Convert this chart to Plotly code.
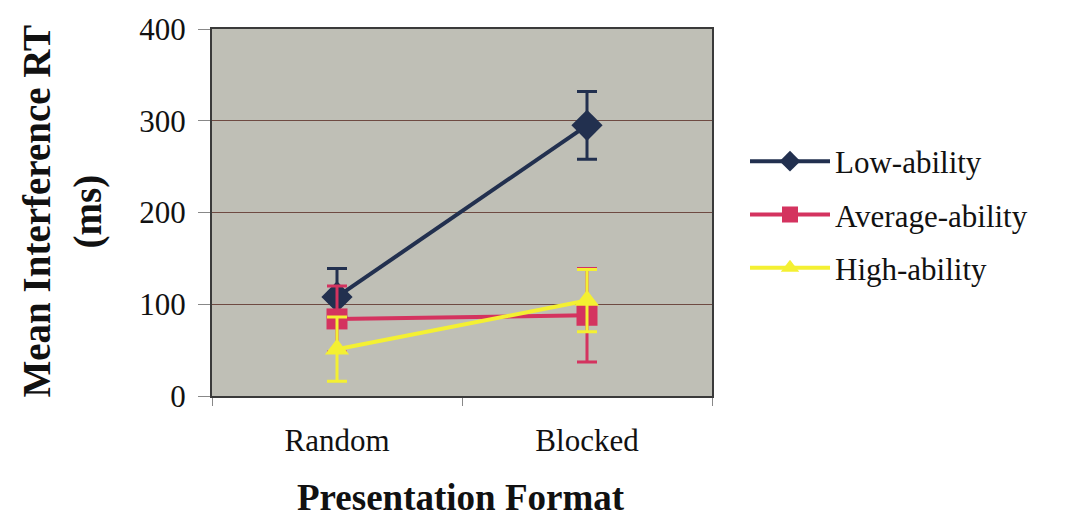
import plotly.graph_objects as go

formats = ["Random", "Blocked"]
groups = ["Low-ability", "Average-ability", "High-ability"]
low_mean = [108, 295]
low_err = [31, 37]
avg_mean = [84, 88]
avg_err = [36, 51]
high_mean = [51, 104]
high_err = [35, 34]

colors = ["#22304f", "#d4335f", "#f4f032"]
symbols = ["diamond", "square", "triangle-up"]
sizes = [24, 21, 21]

font_family = "Liberation Serif, Times New Roman, serif"

L, R, T, B = 212, 356, 26, 124
W, H = 1068, 520
pw, ph = W - L - R, H - T - B


def px_x(x):
    return (x - L) / pw


def px_y(y):
    return (H - B - y) / ph


fig = go.Figure()
for name, m, e, c, s, sz in zip(groups, [low_mean, avg_mean, high_mean],
                                [low_err, avg_err, high_err], colors, symbols, sizes):
    fig.add_trace(go.Scatter(
        x=formats, y=m, name=name, legendgroup=name, mode="lines+markers",
        line=dict(color=c, width=4),
        marker=dict(symbol=s, size=sz, color=c),
        error_y=dict(type="data", array=e, visible=True, color=c,
                     thickness=3, width=10),
    ))

fig.update_layout(
    width=W, height=H,
    margin=dict(l=L, r=R, t=T, b=B),
    paper_bgcolor="white",
    plot_bgcolor="#bfbfb6",
    font=dict(family=font_family, color="#111111"),
    showlegend=True,
    legend=dict(x=px_x(745), y=px_y(213), xanchor="left", yanchor="middle",
                font=dict(size=31, family=font_family),
                itemwidth=80, tracegroupgap=10, bgcolor="rgba(0,0,0,0)"),
    xaxis=dict(
        type="category", range=[-0.5, 1.5],
        showline=True, linecolor="#3a3a3a", linewidth=2, mirror=True,
        ticks="outside", tickson="boundaries", ticklen=8, tickcolor="#888888",
        tickfont=dict(size=31, family=font_family), showgrid=False,
        ticklabelstandoff=16,
    ),
    yaxis=dict(
        range=[0, 400], tickvals=[0, 100, 200, 300, 400],
        showline=True, linecolor="#3a3a3a", linewidth=2, mirror=True,
        ticks="outside", ticklen=12, tickcolor="#888888",
        tickfont=dict(size=31, family=font_family),
        ticklabelstandoff=6,
        showgrid=True, gridcolor="#6e4a42", gridwidth=1,
        zeroline=False,
    ),
    annotations=[
        dict(text="<b>Mean Interference RT</b>", x=px_x(37), y=px_y(210),
             xref="paper", yref="paper", xanchor="center", yanchor="middle",
             showarrow=False, textangle=-90, font=dict(size=39, family=font_family)),
        dict(text="<b>(ms)</b>", x=px_x(88), y=px_y(210),
             xref="paper", yref="paper", xanchor="center", yanchor="middle",
             showarrow=False, textangle=-90, font=dict(size=39, family=font_family)),
        dict(text="<b>Presentation Format</b>", x=px_x(461), y=px_y(498),
             xref="paper", yref="paper", xanchor="center", yanchor="middle",
             showarrow=False, font=dict(size=37, family=font_family)),
    ],
)

fig.write_html("out.html")
